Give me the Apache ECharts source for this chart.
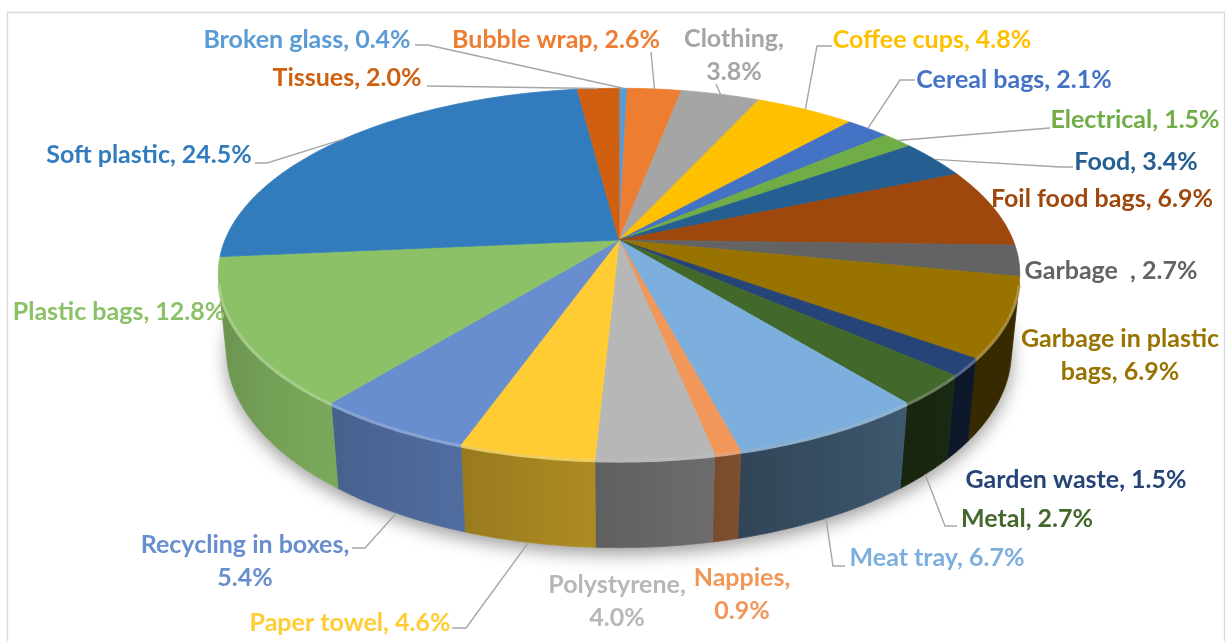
<!DOCTYPE html>
<html>
<head>
<meta charset="utf-8">
<script src="https://cdn.jsdelivr.net/npm/echarts@6/dist/echarts.min.js"></script>
<style>
html, body { margin: 0; padding: 0; background: #fff; }
#chart { width: 1228px; height: 641px; }
</style>
</head>
<body>
<div id="chart"></div>
<script>
// waste composition, clockwise from 12 o'clock
var categories = ['Broken glass', 'Bubble wrap', 'Clothing', 'Coffee cups', 'Cereal bags',
  'Electrical', 'Food', 'Foil food bags', 'Garbage  ', 'Garbage in plastic bags',
  'Garden waste', 'Metal', 'Meat tray', 'Nappies', 'Polystyrene',
  'Paper towel', 'Recycling in boxes', 'Plastic bags', 'Soft plastic', 'Tissues'];
var values = [0.4, 2.6, 3.8, 4.8, 2.1, 1.5, 3.4, 6.9, 2.7, 6.9,
  1.5, 2.7, 6.7, 0.9, 4.0, 4.6, 5.4, 12.8, 24.5, 2.0];
var colors = ['#5B9BD5', '#ED7D31', '#A5A5A5', '#FFC000', '#4472C4',
  '#70AD47', '#255E91', '#9E480E', '#636363', '#997300',
  '#264478', '#43682B', '#7CAFDD', '#F1975A', '#B7B7B7',
  '#FFCD33', '#698ED0', '#8CC168', '#327CBE', '#D0600F'];

// label layout: centre x, centre y, words on first line (0 = one line),
// leader start + elbow (or null), leader ends on 'top' or 'bottom' rim
var labelLayout = [
  [307, 40, 0, [[415, 45], [428, 45]], 'top'],
  [556, 40, 0, [[651, 52], [651, 52]], 'top'],
  [734, 55, 1, [[716, 84], [716, 84]], 'top'],
  [932, 40, 0, [[832, 46], [817, 46]], 'top'],
  [1014, 80, 0, [[915, 80], [900, 80]], 'top'],
  [1135, 120, 0, [[1050, 128], [1050, 128]], 'top'],
  [1136, 162, 0, [[1073, 167], [1060, 167]], 'top'],
  [1102, 199, 0, null, 'top'],
  [1111, 271, 0, null, 'top'],
  [1120, 355, 3, null, 'top'],
  [1076, 480, 0, null, 'bottom'],
  [1027, 519, 0, [[957, 526], [945, 526]], 'bottom'],
  [937, 558, 0, [[845, 566], [833, 566]], 'bottom'],
  [742, 594, 1, null, 'bottom'],
  [617, 601, 1, null, 'bottom'],
  [350, 623, 0, [[452, 628], [466, 628]], 'bottom'],
  [245, 561, 3, [[352, 548], [365, 548]], 'bottom'],
  [119, 312, 0, null, 'top'],
  [149, 155, 0, [[255, 163], [267, 163]], 'top'],
  [347, 78, 0, [[427, 86], [427, 86]], 'top']
];

var CX = 619, CY = 240, R = 394, H = 88;
var TILT = 27.1 * Math.PI / 180, DIST = 1918;
var DEG = Math.PI / 180;

var total = 0, starts = [];
for (var i = 0; i < values.length; i++) { starts.push(total); total += values[i]; }

// angle measured clockwise from the back of the disc
function project(theta, y) {
  var x3 = R * Math.sin(theta), z3 = -R * Math.cos(theta);
  var d = z3 * Math.cos(TILT) + y * Math.sin(TILT);
  var v = y * Math.cos(TILT) - z3 * Math.sin(TILT);
  var s = DIST / (DIST - d);
  return [CX + x3 * s, CY - v * s];
}

var k = R / (DIST * Math.cos(TILT));
var VIS0 = Math.acos(-k), VIS1 = 2 * Math.PI - Math.acos(-k);

function rgb(hex) {
  return [parseInt(hex.substr(1, 2), 16), parseInt(hex.substr(3, 2), 16), parseInt(hex.substr(5, 2), 16)];
}
function shade(hex, f) {
  var c = rgb(hex);
  return 'rgb(' + Math.round(c[0] * f) + ',' + Math.round(c[1] * f) + ',' + Math.round(c[2] * f) + ')';
}
function tint(hex, f) {
  var c = rgb(hex);
  return 'rgb(' + Math.round(c[0] + (255 - c[0]) * f) + ',' + Math.round(c[1] + (255 - c[1]) * f) + ',' + Math.round(c[2] + (255 - c[2]) * f) + ')';
}
function wallLight(t) {
  return Math.min(0.88, Math.max(0.36, 0.58 - 0.3 * Math.sin(t)));
}

function labelText(i) {
  var full = categories[i] + ', ' + values[i].toFixed(1) + '%';
  var n = labelLayout[i][2];
  if (!n) return full;
  var w = full.split(' ');
  return w.slice(0, n).join(' ') + '\n' + w.slice(n).join(' ');
}

function renderItem(params, api) {
  var i = params.dataIndex;
  var v = api.value(0);
  var a0 = starts[i] / total * 2 * Math.PI;
  var a1 = a0 + v / total * 2 * Math.PI;
  var col = colors[i];
  var children = [];

  if (i === 0) {
    var outline = [];
    for (var t = 0; t <= 360; t += 2) outline.push(project(t * DEG, -H));
    children.push({
      type: 'polygon', z2: 0, shape: { points: outline },
      style: { fill: '#fff', shadowBlur: 18, shadowOffsetY: 6, shadowColor: 'rgba(0,0,0,0.4)' }
    });
  }

  // top face
  var steps = Math.max(2, Math.ceil((a1 - a0) / DEG));
  var pts = [[CX, CY]];
  for (var s = 0; s <= steps; s++) pts.push(project(a0 + (a1 - a0) * s / steps, 0));
  children.push({
    type: 'polygon', z2: 10, shape: { points: pts },
    style: { fill: col, stroke: col, lineWidth: 0.8 }
  });

  // outer wall, front part only, shaded left to right
  var wa = Math.max(a0, VIS0), wb = Math.min(a1, VIS1);
  if (wa < wb) {
    var m = Math.max(2, Math.ceil((wb - wa) / DEG));
    var topEdge = [], botEdge = [], rim = [];
    for (var q = 0; q <= m; q++) {
      var tq = wa + (wb - wa) * q / m;
      var pt = project(tq, 0);
      topEdge.push(pt);
      botEdge.unshift(project(tq, -H));
      rim.push([pt[0], pt[1] + 1.5]);
    }
    var xa = topEdge[0][0], xb = topEdge[m][0];
    var left = xa < xb ? wb : wa, right = xa < xb ? wa : wb;
    var grad = new echarts.graphic.LinearGradient(
      Math.min(xa, xb), 0, Math.max(xa, xb), 0,
      [{ offset: 0, color: shade(col, wallLight(left)) },
       { offset: 0.5, color: shade(col, wallLight((wa + wb) / 2)) },
       { offset: 1, color: shade(col, wallLight(right)) }], true);
    children.push({
      type: 'polygon', z2: 5, shape: { points: topEdge.concat(botEdge) },
      style: { fill: grad, stroke: grad, lineWidth: 0.8 }
    });
    children.push({
      type: 'polyline', z2: 11, shape: { points: rim },
      style: { fill: 'none', stroke: tint(col, 0.3), lineWidth: 3, opacity: 0.8 }
    });
  }

  // label + leader line
  var L = labelLayout[i];
  children.push({
    type: 'text', z2: 20,
    style: {
      text: labelText(i), x: L[0], y: L[1], align: 'center', verticalAlign: 'middle',
      fill: col, font: 'bold 25px Lato', lineHeight: 33
    }
  });
  if (L[3]) {
    var end = project((a0 + a1) / 2, L[4] === 'top' ? 0 : -H);
    children.push({
      type: 'polyline', z2: 19,
      shape: { points: [L[3][0], L[3][1], end] },
      style: { fill: 'none', stroke: '#A6A6A6', lineWidth: 1.4 }
    });
  }

  return { type: 'group', children: children };
}

var chart = echarts.init(document.getElementById('chart'));
var option = {
  animation: false,
  graphic: [{
    type: 'rect', shape: { x: 7.5, y: 12.5, width: 1217, height: 640 },
    style: { fill: 'none', stroke: '#D9D9D9', lineWidth: 1.3 }
  }],
  series: [{
    type: 'custom',
    coordinateSystem: 'none',
    renderItem: renderItem,
    data: values.map(function (v, i) { return { name: categories[i], value: [v] }; })
  }]
};
chart.setOption(option);
</script>
</body>
</html>
